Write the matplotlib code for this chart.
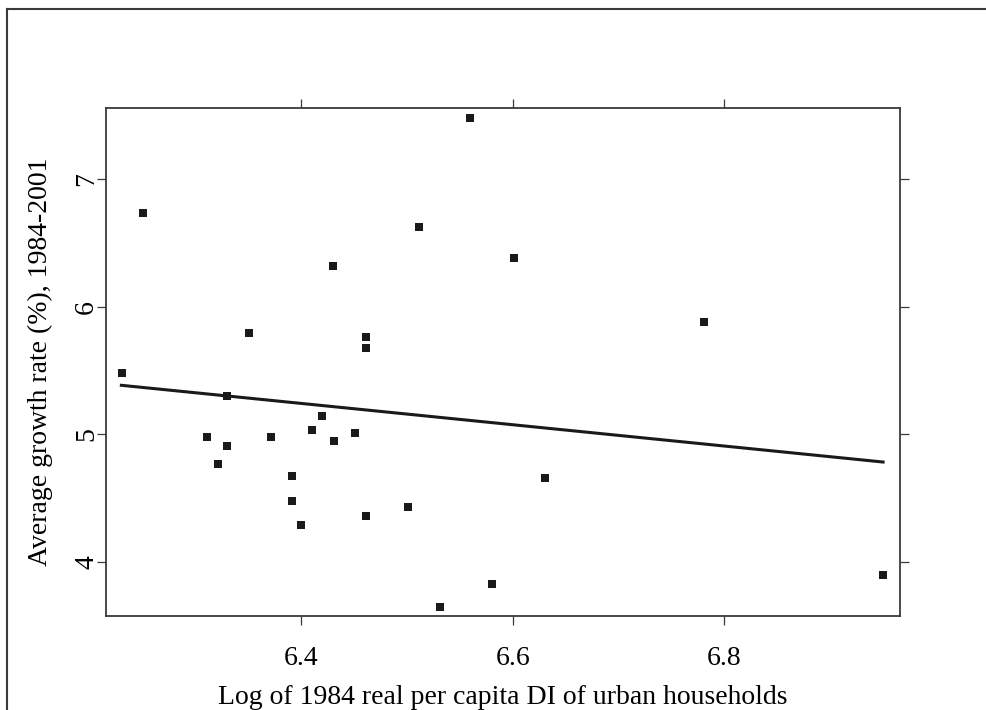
# диаграмма рассеяния: рост доходов против логарифма дохода 1984 года

import matplotlib
matplotlib.use('Agg')
import matplotlib.pyplot as plt
from matplotlib.lines import Line2D

# значения точек
log_income = [6.231, 6.250, 6.311, 6.321, 6.330, 6.330, 6.351, 6.371,
              6.391, 6.391, 6.400, 6.410, 6.420, 6.431, 6.430, 6.451,
              6.461, 6.461, 6.461, 6.501, 6.511, 6.531, 6.560, 6.580,
              6.601, 6.630, 6.781, 6.950]
growth = [5.48, 6.73, 4.98, 4.77, 5.30, 4.91, 5.79, 4.98,
          4.67, 4.48, 4.29, 5.03, 5.14, 4.95, 6.32, 5.01,
          5.76, 5.68, 4.36, 4.43, 6.62, 3.65, 7.48, 3.83,
          6.38, 4.66, 5.88, 3.90]

# линия регрессии (концы)
fit_x = [6.230, 6.950]
fit_y = [5.384, 4.783]

x_ticks = [6.4, 6.6, 6.8]
y_ticks = [4, 5, 6, 7]

plt.rcParams['font.family'] = ['Liberation Serif', 'DejaVu Serif']

fig = plt.figure(figsize=(9.86, 7.10), dpi=100)
ax = fig.add_axes([105.5 / 986, 1 - 616 / 710, (900 - 105.5) / 986, (616 - 108) / 710])

# точки и линия
ax.plot(log_income, growth, 's', color='#1a1a1a', markersize=5.5, markeredgewidth=0)
ax.plot(fit_x, fit_y, '-', color='#1a1a1a', linewidth=2.2)

# оси
ax.set_xlim(6.215, 6.966)
ax.set_ylim(3.577, 7.556)
ax.set_xticks(x_ticks)
ax.set_xticklabels([str(t) for t in x_ticks])
ax.set_yticks(y_ticks)
ax.set_yticklabels([str(t) for t in y_ticks])

for s in ax.spines.values():
    s.set_color('#3a3a3a')
    s.set_linewidth(1.3)

ax.tick_params(direction='out', length=6.5, width=0.9, color='#3a3a3a',
               labelsize=20, top=True, right=True)
ax.tick_params(axis='x', pad=15)
ax.tick_params(axis='y', pad=-2, labelrotation=90)
for lab in ax.get_yticklabels():
    lab.set_va('center')

ax.set_xlabel('Log of 1984 real per capita DI of urban households', fontsize=20, labelpad=10)
ax.set_ylabel('Average growth rate (%), 1984-2001', fontsize=20, labelpad=15)

# рамка вокруг всей картинки (слева и сверху)
fx = 7 / 986
fy = 1 - 9 / 710
fig.add_artist(Line2D([fx, fx], [0, fy], transform=fig.transFigure, color='#3a3a3a', linewidth=1.5))
fig.add_artist(Line2D([fx, 1], [fy, fy], transform=fig.transFigure, color='#3a3a3a', linewidth=1.5))

fig.savefig('out.png', dpi=100, facecolor='white')
